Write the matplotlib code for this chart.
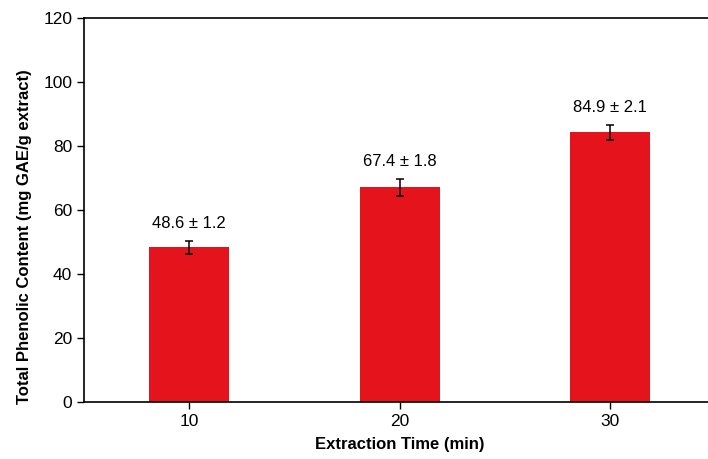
import matplotlib.pyplot as plt
import numpy as np

plt.rcParams["font.family"] = ["Liberation Sans", "DejaVu Sans"]

times = [10, 20, 30]
tpc = [48.4, 67.1, 84.3]
tpc_err = [2.0, 2.6, 2.4]
labels = ["48.6 ± 1.2", "67.4 ± 1.8", "84.9 ± 2.1"]
yticks = [0, 20, 40, 60, 80, 100, 120]

fig = plt.figure(figsize=(7.08, 4.59), dpi=100)
ax = fig.add_axes([0.1186, 0.1242, 0.892, 0.8366])

ax.bar(times, tpc, width=3.8, color="#e5131c", zorder=2)
ax.errorbar(times, tpc, yerr=tpc_err, fmt="none", ecolor="black",
            elinewidth=1.1, capsize=2.6, capthick=1.1, zorder=3)
for x, v, e, lab in zip(times, tpc, tpc_err, labels):
    ax.annotate(lab, (x, v + e), xytext=(0, 7), textcoords="offset points",
                ha="center", va="bottom", fontsize=12)

ax.set_xlim(5, 35)
ax.set_ylim(0, 120)
ax.set_xticks(times)
ax.set_yticks(yticks)
ax.tick_params(direction="out", length=5, width=1, labelsize=12.5)
ax.spines["right"].set_visible(False)
for s in ax.spines.values():
    s.set_linewidth(1.2)
ax.set_xlabel("Extraction Time (min)", fontsize=12, fontweight="bold", labelpad=6)
ax.set_ylabel("Total Phenolic Content (mg GAE/g extract)", fontsize=12,
              fontweight="bold")
ax.yaxis.set_label_coords(-0.082, 0.43)

fig.savefig("out.png", dpi=100)
